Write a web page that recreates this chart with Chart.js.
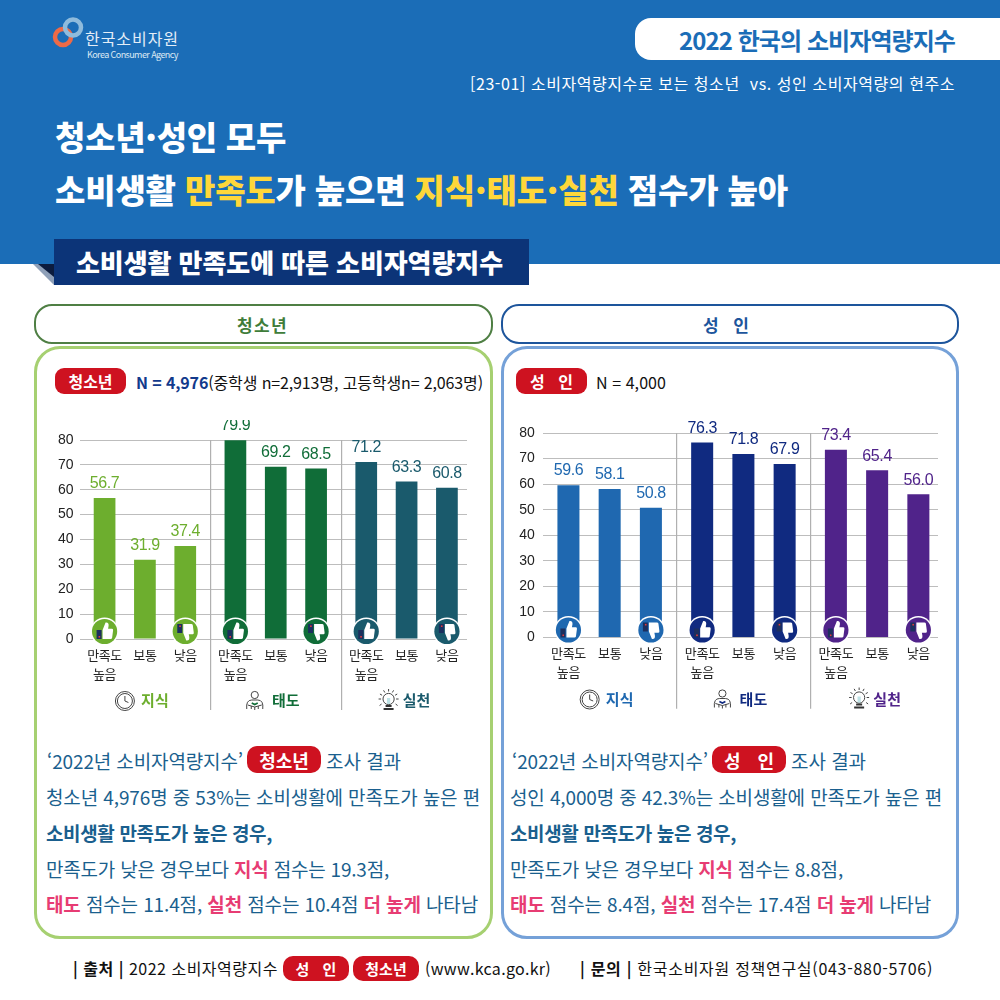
<!DOCTYPE html>
<html lang="ko"><head><meta charset="utf-8">
<script src="https://cdn.jsdelivr.net/npm/chart.js@4/dist/chart.umd.min.js"></script>
<style>
html,body{margin:0;padding:0;background:#fff}
#page{position:relative;width:1000px;height:1000px;overflow:hidden;background:#fff;font-family:"Noto Sans CJK KR","Noto Sans",sans-serif}
.a{position:absolute;box-sizing:border-box}
.t{position:absolute;white-space:nowrap;line-height:1;transform:translateY(-50%)}
.b{font-weight:700}
.p{color:#E73C73;font-weight:700}
.body{font-size:19px;color:#1A5F8E}
.foot{font-size:16px;color:#111}
.badge{position:absolute;box-sizing:border-box;background:#CE1220;color:#fff;font-weight:700;display:flex;align-items:center;justify-content:center;white-space:nowrap;line-height:1}
.wrap{position:absolute;overflow:hidden}
canvas{display:block}
</style></head><body>
<div id="page">
<div class="a" style="left:0;top:0;width:1000px;height:264px;background:#1B6DB7"></div>
<svg class="a" style="left:50px;top:15px" width="50" height="40" viewBox="0 0 50 40">
<circle cx="13" cy="22" r="8" fill="none" stroke="#EE6A46" stroke-width="4.5"/>
<circle cx="23" cy="12.5" r="8" fill="none" stroke="#8FBBDC" stroke-width="4.5"/>
</svg>
<div class="t" data-w="94" style="left:85px;top:38px;font-size:16px;color:#E4EEF7">한국소비자원</div>
<div class="t" data-w="91" style="left:87px;top:54px;font-size:9px;color:#DCE9F4">Korea Consumer Agency</div>
<div class="a" style="left:635px;top:18px;width:365px;height:42px;background:#fff;border-radius:16px 0 0 16px"></div>
<div class="t b" data-w="276" style="left:679px;top:40px;font-size:24px;color:#1B6DB7">2022 한국의 소비자역량지수</div>
<div class="t" data-w="485" style="left:470px;top:83px;font-size:16px;color:#fff">[23-01] 소비자역량지수로 보는 청소년&nbsp; vs. 성인 소비자역량의 현주소</div>
<div class="t" data-w="231" style="left:55px;top:136px;font-size:33px;font-weight:900;color:#fff">청소년·성인 모두</div>
<div class="t" data-w="733" style="left:55px;top:189px;font-size:33px;font-weight:900;color:#fff">소비생활 <span style="color:#FFD73A">만족도</span>가 높으면 <span style="color:#FFD73A">지식·태도·실천</span> 점수가 높아</div>
<svg class="a" style="left:30px;top:260px" width="26" height="28" viewBox="0 0 26 28"><polygon points="3,4 24,4 24,25" fill="#8FA0B8"/><polygon points="8,4 24,4 24,17" fill="#0C1C3E"/></svg>
<div class="a" style="left:53.5px;top:239px;width:475px;height:46px;background:#0C3478"></div>
<div class="t" data-w="427" style="left:76px;top:262px;font-size:26px;font-weight:900;color:#fff">소비생활 만족도에 따른 소비자역량지수</div>

<div class="a" style="left:34px;top:304px;width:459px;height:40px;border:2px solid #4F7F44;border-radius:18px"></div>
<div class="t b" data-w="51" style="left:237px;top:324px;font-size:17px;color:#3F7D3A">청소년</div>
<div class="a" style="left:501px;top:304px;width:458px;height:40px;border:2px solid #1D559C;border-radius:18px"></div>
<div class="t b" data-w="51" style="left:703px;top:324px;font-size:17px;color:#1D559C">성 인</div>
<div class="a" style="left:34px;top:346px;width:459px;height:593px;border:3px solid #A6D071;border-radius:26px"></div>
<div class="a" style="left:501px;top:346px;width:458px;height:593px;border:3px solid #75A1D8;border-radius:26px"></div>

<div class="badge" style="left:55px;top:368px;width:71px;height:26px;border-radius:9px;font-size:16px">청소년</div>
<div class="t" data-w="347" style="left:136px;top:382px;font-size:16px;color:#111"><span class="b" style="color:#123A8C">N = 4,976</span>(중학생 n=2,913명, 고등학생n= 2,063명)</div>
<div class="badge" style="left:516px;top:368px;width:71px;height:26px;border-radius:9px;font-size:16px;word-spacing:9px">성 인</div>
<div class="t" data-w="70" style="left:596px;top:382px;font-size:16px;color:#111">N = 4,000</div>

<div class="wrap" style="left:40px;top:420px;width:427px;height:300px"><canvas id="teen" width="432" height="300" style="width:432px;height:300px"></canvas></div>
<div class="wrap" style="left:500px;top:413px;width:438px;height:300px"><canvas id="adult" width="444" height="300" style="width:444px;height:300px"></canvas></div>

<div class="t body" data-w="196" style="left:47px;top:760px">‘2022년 소비자역량지수’</div>
<div class="badge" style="left:247px;top:746px;width:74px;height:27px;border-radius:10px;font-size:18px">청소년</div>
<div class="t body" data-w="75" style="left:326px;top:760px">조사 결과</div>
<div class="t body" data-w="434" style="left:46px;top:796px">청소년 4,976명 중 53%는 소비생활에 만족도가 높은 편</div>
<div class="t body p" data-w="226" style="left:46px;top:832px">소비생활 만족도가 높은 경우,</div>
<div class="t body" data-w="343" style="left:46px;top:868px">만족도가 낮은 경우보다 <span class="p">지식</span> 점수는 19.3점,</div>
<div class="t body" data-w="432" style="left:46px;top:903px"><span class="p">태도</span> 점수는 11.4점, <span class="p">실천</span> 점수는 10.4점 <span class="p">더 높게</span> 나타남</div>

<div class="t body" data-w="196" style="left:512px;top:760px">‘2022년 소비자역량지수’</div>
<div class="badge" style="left:712px;top:746px;width:74px;height:27px;border-radius:10px;font-size:18px;word-spacing:12px">성 인</div>
<div class="t body" data-w="75" style="left:791px;top:760px">조사 결과</div>
<div class="t body" data-w="432" style="left:510px;top:796px">성인 4,000명 중 42.3%는 소비생활에 만족도가 높은 편</div>
<div class="t body p" data-w="226" style="left:510px;top:832px">소비생활 만족도가 높은 경우,</div>
<div class="t body" data-w="333" style="left:510px;top:868px">만족도가 낮은 경우보다 <span class="p">지식</span> 점수는 8.8점,</div>
<div class="t body" data-w="421" style="left:510px;top:903px"><span class="p">태도</span> 점수는 8.4점, <span class="p">실천</span> 점수는 17.4점 <span class="p">더 높게</span> 나타남</div>

<div class="t foot" data-w="205" style="left:73px;top:968px"><span class="b">| 출처 |</span> 2022 소비자역량지수</div>
<div class="badge" style="left:283px;top:956px;width:66px;height:25px;border-radius:10px;font-size:15px;word-spacing:9px">성 인</div>
<div class="badge" style="left:353px;top:956px;width:66px;height:25px;border-radius:10px;font-size:15px">청소년</div>
<div class="t foot" data-w="126" style="left:425px;top:968px">(www.kca.go.kr)</div>
<div class="t foot" data-w="353" style="left:580px;top:968px"><span class="b">| 문의 |</span> 한국소비자원 정책연구실(043-880-5706)</div>
</div>
<script>
const groups = ['지식','태도','실천'];
const levels = [['만족도','높음'],['보통'],['낮음']];
const levelNames = ['만족도 높음','보통','낮음'];

const teenHigh = [56.7, 79.9, 71.2];
const teenMid  = [31.9, 69.2, 63.3];
const teenLow  = [37.4, 68.5, 60.8];
const adultHigh = [59.6, 76.3, 73.4];
const adultMid  = [58.1, 71.8, 65.4];
const adultLow  = [50.8, 67.9, 56.0];

const teenColors  = ['#6DAE2E','#106D38','#1A5A6C'];
const adultColors = ['#1F68B0','#102A80','#50238A'];

// fit each text run to the width measured on the reference
document.querySelectorAll('[data-w]').forEach(el=>{
  const target=+el.dataset.w, w=el.getBoundingClientRect().width, n=el.textContent.length;
  el.style.letterSpacing=((target-w)/n)+'px';
});

const CHART_FONT='"Liberation Sans","Noto Sans CJK KR",sans-serif';

function drawThumb(ctx,x,y,color,down){
  ctx.save();
  ctx.beginPath();ctx.arc(x,y,14,0,Math.PI*2);ctx.fillStyle='#fff';ctx.fill();
  ctx.beginPath();ctx.arc(x,y,12.6,0,Math.PI*2);ctx.fillStyle=color;ctx.fill();
  ctx.translate(x,y+(down?-0.5:0.5));
  if(down)ctx.scale(1,-1);
  ctx.fillStyle='#fff';
  ctx.beginPath();
  ctx.moveTo(-2,-2);ctx.lineTo(1,-9.5);ctx.quadraticCurveTo(4.5,-10,4,-6);ctx.lineTo(3.5,-3.2);
  ctx.lineTo(7.5,-3.2);ctx.quadraticCurveTo(8.8,-3,8.5,-1.5);ctx.lineTo(7.5,6);ctx.quadraticCurveTo(7.3,7,6,7);
  ctx.lineTo(-2,7);ctx.closePath();ctx.fill();
  ctx.fillStyle='#1C2F5E';ctx.fillRect(-8,-2,5,9);
  ctx.fillStyle='#E23B3B';ctx.fillRect(-6,4,1.6,1.6);
  ctx.restore();
}
function drawGroupIcon(ctx,kind,x,y,accent){
  ctx.save();ctx.translate(x,y);ctx.strokeStyle='#444';ctx.lineWidth=1;ctx.fillStyle='#444';
  if(kind===0){
    ctx.beginPath();ctx.arc(0,0,9.5,0,Math.PI*2);ctx.stroke();
    ctx.beginPath();ctx.arc(0,0,7.5,0,Math.PI*2);ctx.stroke();
    ctx.beginPath();ctx.moveTo(0,-5);ctx.lineTo(0,0);ctx.lineTo(3.5,1.5);ctx.stroke();
  }else if(kind===1){
    ctx.beginPath();ctx.arc(0,-6,3.6,0,Math.PI*2);ctx.stroke();
    ctx.beginPath();ctx.moveTo(-8,8);ctx.quadraticCurveTo(-9,-1,-3,-1);ctx.lineTo(3,-1);ctx.quadraticCurveTo(9,-1,8,8);ctx.stroke();
    ctx.beginPath();ctx.moveTo(-7,4);ctx.lineTo(0,6);ctx.lineTo(7,4);ctx.moveTo(0,6);ctx.lineTo(0,9);ctx.moveTo(-3.5,8);ctx.lineTo(-3.5,5);ctx.moveTo(3.5,8);ctx.lineTo(3.5,5);ctx.stroke();
    ctx.strokeStyle=accent;ctx.lineWidth=1.6;
    ctx.beginPath();ctx.moveTo(-3,2);ctx.lineTo(0,3.5);ctx.lineTo(3,2);ctx.stroke();
  }else{
    ctx.beginPath();ctx.arc(0,-2,5.6,0,Math.PI*2);ctx.stroke();
    ctx.fillStyle='#BFE3E6';ctx.fillRect(-1.6,-3,3.2,6);
    ctx.fillStyle='#333';ctx.fillRect(-3,4,6,2);ctx.fillRect(-5,7,10,2);
    ctx.beginPath();
    for(let k=0;k<7;k++){const an=Math.PI*(1+k/6);
      ctx.moveTo(Math.cos(an)*7.5,-2+Math.sin(an)*7.5);ctx.lineTo(Math.cos(an)*10,-2+Math.sin(an)*10);}
    ctx.moveTo(-7,3);ctx.lineTo(-9,4.5);ctx.moveTo(7,3);ctx.lineTo(9,4.5);ctx.stroke();
  }
  ctx.restore();
}
const decorations={
  id:'decorations',
  afterDatasetsDraw(chart,args,opts){
    const ctx=chart.ctx, bottom=chart.chartArea.bottom, xs=chart.scales.x;
    chart.data.datasets.forEach((ds,i)=>{
      chart.getDatasetMeta(i).data.forEach((bar,j)=>{
        const color=opts.colors[j];
        ctx.save();
        ctx.letterSpacing='-0.4px';
        ctx.font='500 16px '+CHART_FONT;ctx.fillStyle=color;ctx.textAlign='center';ctx.textBaseline='middle';
        ctx.fillText(ds.data[j].toFixed(1),bar.x,bar.y-14.2);
        ctx.font='13px '+CHART_FONT;ctx.fillStyle='#222';
        levels[i].forEach((line,k)=>ctx.fillText(line,bar.x,bottom+17+k*19));
        ctx.restore();
        if(i!==1)drawThumb(ctx,bar.x,bottom-7.5,color,i===2);
      });
    });
    opts.colors.forEach((c,j)=>drawGroupIcon(ctx,j,xs.getPixelForTick(j)+[-20,-21,-18][j],bottom+62,c));
  }
};
function makeChart(id,high,mid,low,colors,yWidth,xHeight,tickPadY,sepLen,barPct){
  const series=[high,mid,low];
  return new Chart(document.getElementById(id),{
    type:'bar',
    plugins:[decorations],
    data:{labels:groups,datasets:series.map((values,i)=>({
      label:levelNames[i],data:values,backgroundColor:colors,borderWidth:0,
      categoryPercentage:0.925,barPercentage:barPct
    }))},
    options:{
      responsive:false,animation:false,devicePixelRatio:1,
      layout:{padding:{top:20,left:0,right:0,bottom:0}},
      plugins:{legend:{display:false},tooltip:{enabled:false},decorations:{colors}},
      scales:{
        y:{min:0,max:80,
          ticks:{stepSize:10,color:'#222',padding:tickPadY,font:{size:14,family:CHART_FONT}},
          grid:{color:'#BDBDBD',lineWidth:1,drawTicks:false},
          border:{display:false},
          afterFit(s){s.width=yWidth}
        },
        x:{
          ticks:{autoSkip:false,maxRotation:0,labelOffset:10,padding:-17,
            color:c=>colors[c.index],font:{size:15,weight:'700',family:CHART_FONT}},
          grid:{offset:true,tickLength:sepLen,lineWidth:1.2,
            color:c=>(c.index>0&&c.index<3)?'#B0B0B0':'rgba(0,0,0,0)'},
          border:{display:false},
          afterFit(s){s.height=xHeight}
        }
      }
    }
  });
}
makeChart('teen',teenHigh,teenMid,teenLow,teenColors,39.5,81,6,71,0.538);
makeChart('adult',adultHigh,adultMid,adultLow,adultColors,42.8,75.5,8,71.3,0.534);
</script>
</body></html>
